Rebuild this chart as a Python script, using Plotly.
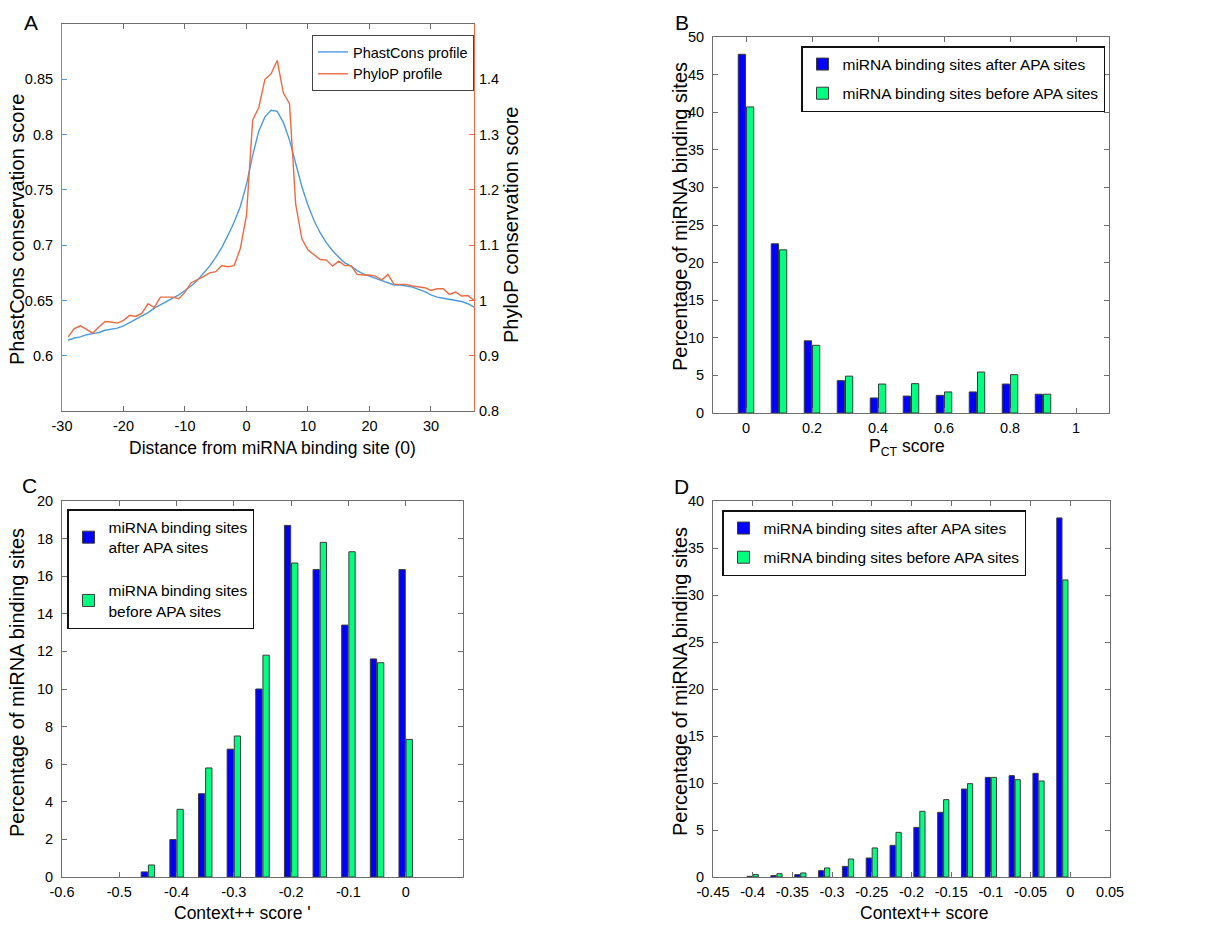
import plotly.graph_objects as go

# ---------------- Panel A data ----------------
dist = list(range(-29, 38))
phastcons = [0.614, 0.616, 0.617, 0.619, 0.620, 0.621, 0.623, 0.624, 0.625, 0.627,
             0.630, 0.633, 0.636, 0.639, 0.643, 0.646, 0.649, 0.652, 0.655, 0.659,
             0.663, 0.668, 0.674, 0.681, 0.689, 0.698, 0.709, 0.721, 0.735, 0.755,
             0.781, 0.803, 0.816, 0.822, 0.821, 0.811, 0.795, 0.774, 0.753, 0.736,
             0.722, 0.711, 0.702, 0.695, 0.689, 0.684, 0.681, 0.677, 0.674, 0.672,
             0.670, 0.668, 0.666, 0.664, 0.664, 0.663, 0.662, 0.660, 0.658, 0.655,
             0.653, 0.652, 0.651, 0.650, 0.649, 0.647, 0.644]
phylop = [0.934, 0.949, 0.954, 0.947, 0.941, 0.952, 0.962, 0.961, 0.959, 0.964,
          0.973, 0.971, 0.977, 0.994, 0.987, 1.006, 1.006, 1.006, 1.003, 1.015,
          1.032, 1.037, 1.043, 1.050, 1.052, 1.063, 1.061, 1.063, 1.094, 1.154,
          1.326, 1.349, 1.400, 1.410, 1.434, 1.375, 1.356, 1.174, 1.112, 1.091,
          1.082, 1.074, 1.073, 1.062, 1.071, 1.063, 1.063, 1.047, 1.046, 1.046,
          1.044, 1.037, 1.047, 1.029, 1.029, 1.029, 1.026, 1.025, 1.023, 1.018,
          1.021, 1.021, 1.011, 1.015, 1.008, 1.009, 1.000]

# ---------------- Panel B data ----------------
pct_bins = [0.0, 0.1, 0.2, 0.3, 0.4, 0.5, 0.6, 0.7, 0.8, 0.9]
pct_after = [47.7, 22.5, 9.6, 4.3, 2.0, 2.25, 2.35, 2.8, 3.85, 2.5]
pct_before = [40.7, 21.7, 9.0, 4.9, 3.85, 3.9, 2.8, 5.45, 5.1, 2.5]

# ---------------- Panel C data ----------------
ctx_c_bins = [-0.45, -0.40, -0.35, -0.30, -0.25, -0.20, -0.15, -0.10, -0.05, 0.0]
ctx_c_after = [0.27, 1.99, 4.43, 6.8, 10.0, 18.7, 16.35, 13.4, 11.6, 16.35]
ctx_c_before = [0.64, 3.6, 5.8, 7.5, 11.8, 16.7, 17.8, 17.3, 11.4, 7.32]

# ---------------- Panel D data ----------------
ctx_d_bins = [-0.40, -0.37, -0.34, -0.31, -0.28, -0.25, -0.22, -0.19, -0.16,
              -0.13, -0.10, -0.07, -0.04, -0.01]
ctx_d_after = [0.07, 0.15, 0.25, 0.67, 1.13, 2.02, 3.37, 5.28, 6.88, 9.36,
               10.6, 10.78, 11.03, 38.2]
ctx_d_before = [0.25, 0.35, 0.43, 0.96, 1.91, 3.09, 4.75, 6.99, 8.23, 9.93,
                10.6, 10.35, 10.21, 31.6]

name_after = "miRNA binding sites after APA sites"
name_before = "miRNA binding sites before APA sites"

# ---------------- styling ----------------
FONT = "Liberation Sans, Arial, sans-serif"
BLUE_LINE = "#4C9BDC"
ORANGE_LINE = "#EC6B43"
BAR_BLUE = "#0000FF"
BAR_GREEN = "#00FF80"
FRAME = "#6E6E6E"
TICKF = dict(family=FONT, size=14.5, color="black")
TITLEY = dict(family=FONT, size=20, color="black")
TITLEX = dict(family=FONT, size=17.5, color="black")
LEGF = dict(family=FONT, size=15.5, color="black")

W, H = 1228, 926


def px(x):
    return x / W


def py(y):
    return 1 - y / H


def px_x(a, b):
    return [px(a), px(b)]


def px_y(top, bottom):
    return [py(bottom), py(top)]


fig = go.Figure()

# Panel A traces
fig.add_trace(go.Scatter(x=dist, y=phastcons, mode="lines", name="PhastCons profile",
                         line=dict(color=BLUE_LINE, width=1.4), xaxis="x", yaxis="y",
                         legend="legend"))
fig.add_trace(go.Scatter(x=dist, y=phylop, mode="lines", name="PhyloP profile",
                         line=dict(color=ORANGE_LINE, width=1.4), xaxis="x", yaxis="y2",
                         legend="legend"))

bar_line = dict(color="#3a3a3a", width=1)

# Panel B
fig.add_trace(go.Bar(x=pct_bins, y=pct_after, name=name_after, marker=dict(color=BAR_BLUE, line=bar_line),
                     xaxis="x2", yaxis="y3", legend="legend2", offsetgroup="a", legendgroup="b1"))
fig.add_trace(go.Bar(x=pct_bins, y=pct_before, name=name_before, marker=dict(color=BAR_GREEN, line=bar_line),
                     xaxis="x2", yaxis="y3", legend="legend2", offsetgroup="b", legendgroup="b2"))

# Panel C
fig.add_trace(go.Bar(x=ctx_c_bins, y=ctx_c_after, name="miRNA binding sites<br>after APA sites",
                     marker=dict(color=BAR_BLUE, line=bar_line),
                     xaxis="x3", yaxis="y4", legend="legend3", offsetgroup="a", legendgroup="c1"))
fig.add_trace(go.Bar(x=ctx_c_bins, y=ctx_c_before, name="miRNA binding sites<br>before APA sites",
                     marker=dict(color=BAR_GREEN, line=bar_line),
                     xaxis="x3", yaxis="y4", legend="legend3", offsetgroup="b", legendgroup="c2"))

# Panel D
fig.add_trace(go.Bar(x=ctx_d_bins, y=ctx_d_after, name=name_after, marker=dict(color=BAR_BLUE, line=bar_line),
                     xaxis="x4", yaxis="y5", legend="legend4", offsetgroup="a", legendgroup="d1"))
fig.add_trace(go.Bar(x=ctx_d_bins, y=ctx_d_before, name=name_before, marker=dict(color=BAR_GREEN, line=bar_line),
                     xaxis="x4", yaxis="y5", legend="legend4", offsetgroup="b", legendgroup="d2"))


def xax(domain, rng, vals, texts, anchor):
    return dict(domain=domain, range=rng, tickvals=vals, ticktext=texts, ticks="inside",
                ticklen=5, tickcolor=FRAME, showline=True, linecolor=FRAME, linewidth=1,
                mirror="ticks", showgrid=False, zeroline=False, tickfont=TICKF,
                ticklabelstandoff=2, anchor=anchor, automargin=False)


def yax(domain, rng, vals, texts, anchor, color=FRAME, mirror="ticks"):
    return dict(domain=domain, range=rng, tickvals=vals, ticktext=texts, ticks="inside",
                ticklen=5, tickcolor=color, showline=True, linecolor=color, linewidth=1,
                mirror=mirror, showgrid=False, zeroline=False, tickfont=TICKF,
                ticklabelstandoff=5, anchor=anchor, automargin=False)


def fmt(v):
    s = ("%.2f" % v).rstrip("0").rstrip(".")
    return "0" if s in ("-0", "") else s


# axis ticks
a_x = [-30, -20, -10, 0, 10, 20, 30]
a_y = [0.6, 0.65, 0.7, 0.75, 0.8, 0.85]
a_y2 = [0.8, 0.9, 1.0, 1.1, 1.2, 1.3, 1.4]
b_x = [0, 0.2, 0.4, 0.6, 0.8, 1.0]
b_y = list(range(0, 51, 5))
c_x = [-0.6, -0.5, -0.4, -0.3, -0.2, -0.1, 0.0]
c_y = list(range(0, 21, 2))
d_x = [-0.45, -0.4, -0.35, -0.3, -0.25, -0.2, -0.15, -0.1, -0.05, 0.0, 0.05]
d_y = list(range(0, 41, 5))

dom_a_x = px_x(62, 474)
dom_a_y = px_y(24, 411)
dom_b_x = px_x(713, 1109)
dom_b_y = px_y(37, 413)
dom_c_x = px_x(62, 463)
dom_c_y = px_y(501, 877)
dom_d_x = px_x(713, 1110)
dom_d_y = px_y(501, 877)

layout = dict(
    width=W, height=H, margin=dict(l=0, r=0, t=0, b=0, pad=0),
    paper_bgcolor="white", plot_bgcolor="white",
    barmode="group", bargap=0.5, bargroupgap=0.12,
    font=dict(family=FONT, color="black"),
    xaxis=xax(dom_a_x, [-30, 37], a_x, [fmt(v) for v in a_x], "y"),
    yaxis=yax(dom_a_y, [0.55, 0.9], a_y, [fmt(v) for v in a_y], "x",
              color=BLUE_LINE, mirror=False),
    yaxis2=dict(domain=dom_a_y, range=[0.8, 1.5], tickvals=a_y2, ticktext=[fmt(v) for v in a_y2],
                overlaying="y", side="right", anchor="x", ticks="inside", ticklen=5,
                tickcolor=ORANGE_LINE, showline=True, linecolor=ORANGE_LINE, linewidth=1,
                showgrid=False, zeroline=False, tickfont=TICKF, ticklabelstandoff=1,
                automargin=False),
    xaxis2=xax(dom_b_x, [-0.1, 1.1], b_x, [fmt(v) for v in b_x], "y3"),
    yaxis3=yax(dom_b_y, [0, 50], b_y, [str(v) for v in b_y], "x2"),
    xaxis3=xax(dom_c_x, [-0.6, 0.1], c_x, [fmt(v) for v in c_x], "y4"),
    yaxis4=yax(dom_c_y, [0, 20], c_y, [str(v) for v in c_y], "x3"),
    xaxis4=xax(dom_d_x, [-0.45, 0.05], d_x, [fmt(v) for v in d_x], "y5"),
    yaxis5=yax(dom_d_y, [0, 40], d_y, [str(v) for v in d_y], "x4"),
    legend=dict(x=px(312), y=py(35), xanchor="left", yanchor="top", bgcolor="white",
                bordercolor="#444444", borderwidth=1, font=dict(family=FONT, size=14.5, color="black"),
                itemwidth=30),
    legend2=dict(x=px(801), y=py(46), xanchor="left", yanchor="top", bgcolor="white",
                 bordercolor="#111111", borderwidth=1.5, font=LEGF, traceorder="grouped",
                 tracegroupgap=6),
    legend3=dict(x=px(67), y=py(509), xanchor="left", yanchor="top", bgcolor="white",
                 bordercolor="#111111", borderwidth=1.5, font=LEGF, traceorder="grouped",
                 tracegroupgap=20),
    legend4=dict(x=px(722), y=py(510), xanchor="left", yanchor="top", bgcolor="white",
                 bordercolor="#111111", borderwidth=1.5, font=LEGF, traceorder="grouped",
                 tracegroupgap=6),
    showlegend=True,
)

# panel letters and axis titles (text, x centre, y centre in window pixels, angle, font)
texts = [
    ("A", 31, 22, 0, dict(family=FONT, size=21, color="black")),
    ("B", 682, 22, 0, dict(family=FONT, size=21, color="black")),
    ("C", 29, 485, 0, dict(family=FONT, size=21, color="black")),
    ("D", 681, 486, 0, dict(family=FONT, size=21, color="black")),
    ("Distance from miRNA binding site (0)", 272, 448, 0, TITLEX),
    ("PhastCons conservation score", 17, 230, -90, TITLEY),
    ("PhyloP conservation score", 511, 225, -90, TITLEY),
    ("P<sub>CT</sub> score", 907, 447, 0, TITLEX),
    ("Percentage of miRNA binding sites", 680, 217, -90, TITLEY),
    ("Context++ score '", 242, 913, 0, TITLEX),
    ("Percentage of miRNA binding sites", 17, 683, -90, TITLEY),
    ("Context++ score", 924, 913, 0, TITLEX),
    ("Percentage of miRNA binding sites", 680, 682, -90, TITLEY),
]
layout["annotations"] = [
    dict(text=t, x=px(xp), y=py(yp), xref="paper", yref="paper", showarrow=False,
         xanchor="center", yanchor="middle", textangle=ang, font=f)
    for t, xp, yp, ang, f in texts
]

fig.update_layout(**layout)
# the figure fills the whole window: drop the browser's default page margin
fig.write_html("out.html", config={"displayModeBar": False},
               post_script="document.body.style.margin='0';document.body.style.overflow='hidden';")
